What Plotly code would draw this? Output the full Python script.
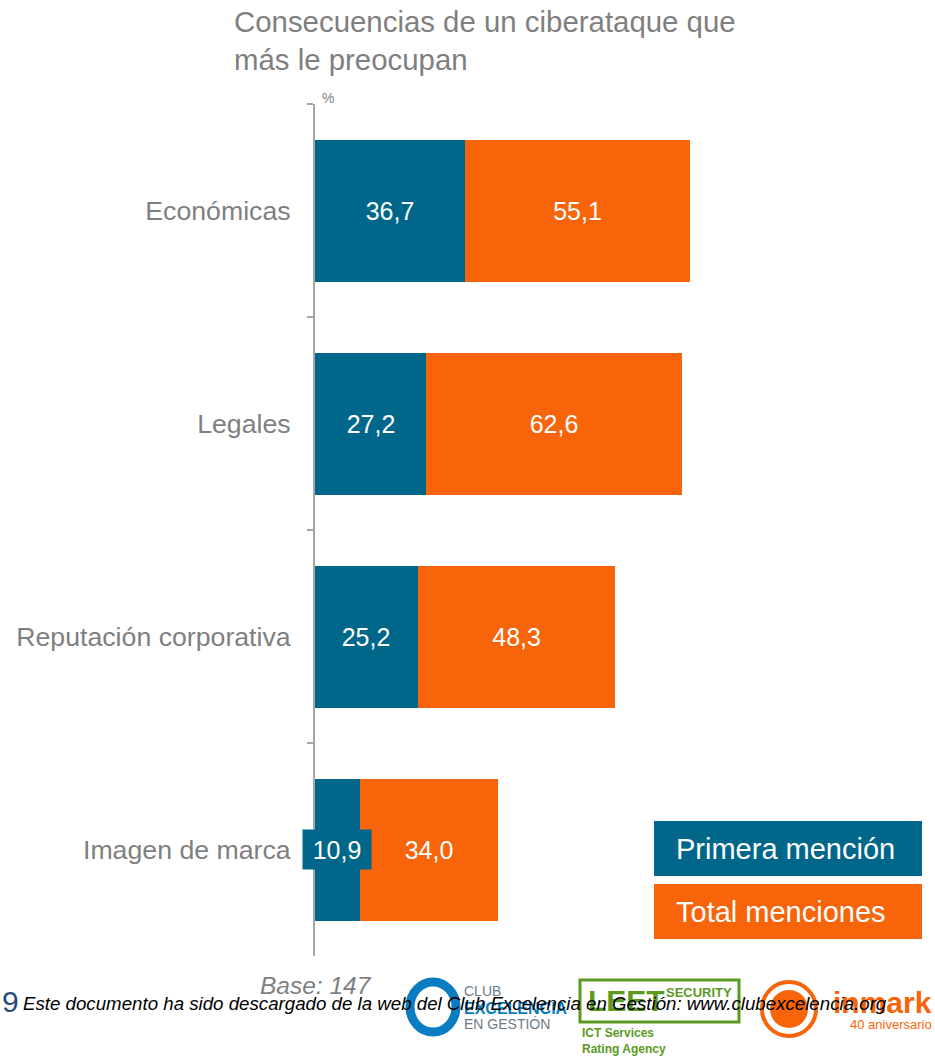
import plotly.graph_objects as go

categories = ["Económicas", "Legales", "Reputación corporativa", "Imagen de marca"]
primera = [36.7, 27.2, 25.2, 10.9]
total = [55.1, 62.6, 48.3, 34.0]
series_names = ["Primera mención", "Total menciones"]
title_lines = ["Consecuencias de un ciberataque que", "más le preocupan"]
base_text = "Base: 147"
page_number = "9"
footer = "Este documento ha sido descargado de la web del Club Excelencia en Gestión: www.clubexcelencia.org"

W, H = 935, 1058
BLUE = "#00678A"
ORANGE = "#F7640A"
GRAY = "#7F7F7F"
FONT = "Liberation Sans, Arial, sans-serif"


def fmt(v):
    return f"{v:.1f}".replace(".", ",")


def px(x):
    return x / W


def py(y):
    return 1 - y / H


fig = go.Figure()
fig.add_trace(go.Bar(
    y=categories, x=primera, orientation="h", name=series_names[0],
    marker=dict(color=BLUE, line=dict(width=0)), showlegend=False,
))
fig.add_trace(go.Bar(
    y=categories, x=total, orientation="h", name=series_names[1],
    marker=dict(color=ORANGE, line=dict(width=0)), showlegend=False,
    text=[fmt(v) for v in total], textposition="inside", insidetextanchor="middle",
    constraintext="none", textfont=dict(color="white", size=25, family=FONT),
    textangle=0,
))

annotations = []
for c, v in zip(categories, primera):
    annotations.append(dict(
        x=v / 2, y=c, xref="x", yref="y", text=fmt(v), showarrow=False,
        font=dict(color="white", size=25, family=FONT),
        bgcolor=BLUE, width=68, height=39, borderpad=0,
    ))

# title
annotations.append(dict(
    x=px(232), y=py(3), xref="paper", yref="paper", xanchor="left", yanchor="top",
    text="<br>".join(title_lines), showarrow=False, align="left",
    font=dict(color=GRAY, size=29.4, family=FONT),
))
annotations.append(dict(
    x=px(320), y=py(98), xref="paper", yref="paper", xanchor="left", yanchor="middle",
    text="%", showarrow=False, font=dict(color=GRAY, size=14, family=FONT),
))

# legend boxes
shapes = []
legend_boxes = [(821, 876, BLUE), (884, 939, ORANGE)]
for (y0, y1, col), name in zip(legend_boxes, series_names):
    shapes.append(dict(type="rect", xref="paper", yref="paper",
                       x0=px(654), x1=px(922), y0=py(y1), y1=py(y0),
                       fillcolor=col, line=dict(width=0)))
    annotations.append(dict(
        x=px(674), y=py((y0 + y1) / 2), xref="paper", yref="paper",
        xanchor="left", yanchor="middle", text=name, showarrow=False,
        font=dict(color="white", size=29, family=FONT),
    ))

# base
annotations.append(dict(
    x=px(316), y=py(985), xref="paper", yref="paper", xanchor="center", yanchor="middle",
    text=f"<i>{base_text}</i>", showarrow=False,
    font=dict(color=GRAY, size=24.5, family=FONT),
))

# logos (approximated)
shapes.append(dict(type="circle", xref="paper", yref="paper",
                   x0=px(410), x1=px(456), y0=py(1032), y1=py(982),
                   line=dict(color="#0A7CC1", width=9)))
annotations.append(dict(x=px(462), y=py(991), xref="paper", yref="paper", xanchor="left",
                        yanchor="middle", text="CLUB", showarrow=False,
                        font=dict(color="#6D7B86", size=14, family=FONT)))
annotations.append(dict(x=px(462), y=py(1008), xref="paper", yref="paper", xanchor="left",
                        yanchor="middle", text="<b>EXCELENCIA</b>", showarrow=False,
                        font=dict(color="#0A7CC1", size=16, family=FONT)))
annotations.append(dict(x=px(462), y=py(1024), xref="paper", yref="paper", xanchor="left",
                        yanchor="middle", text="EN GESTIÓN", showarrow=False,
                        font=dict(color="#6D7B86", size=14, family=FONT)))
shapes.append(dict(type="rect", xref="paper", yref="paper",
                   x0=px(580), x1=px(739), y0=py(1022), y1=py(980),
                   line=dict(color="#5A9A1E", width=3), fillcolor="white"))
annotations.append(dict(x=px(586), y=py(1000), xref="paper", yref="paper", xanchor="left",
                        yanchor="middle", text="<b>LEET</b>", showarrow=False,
                        font=dict(color="#5A9A1E", size=30, family=FONT)))
annotations.append(dict(x=px(734), y=py(992), xref="paper", yref="paper", xanchor="right",
                        yanchor="middle", text="<b>SECURITY</b>", showarrow=False,
                        font=dict(color="#5A9A1E", size=13, family=FONT)))
annotations.append(dict(x=px(580), y=py(1041), xref="paper", yref="paper", xanchor="left",
                        yanchor="middle", text="<b>ICT Services<br>Rating Agency</b>", showarrow=False,
                        align="left", font=dict(color="#5A9A1E", size=12, family=FONT)))
shapes.append(dict(type="circle", xref="paper", yref="paper",
                   x0=px(762), x1=px(816), y0=py(1036), y1=py(982),
                   line=dict(color=ORANGE, width=4), fillcolor="white"))
shapes.append(dict(type="circle", xref="paper", yref="paper",
                   x0=px(770), x1=px(808), y0=py(1028), y1=py(990),
                   line=dict(width=0), fillcolor=ORANGE))
annotations.append(dict(x=px(934), y=py(1002), xref="paper", yref="paper", xanchor="right",
                        yanchor="middle", text="<b>inmark</b>", showarrow=False,
                        font=dict(color=ORANGE, size=30, family=FONT)))
annotations.append(dict(x=px(934), y=py(1024), xref="paper", yref="paper", xanchor="right",
                        yanchor="middle", text="40 aniversario", showarrow=False,
                        font=dict(color=ORANGE, size=13, family=FONT)))

# page number and footer
annotations.append(dict(x=px(0), y=py(1001), xref="paper", yref="paper", xanchor="left",
                        yanchor="middle", text=page_number, showarrow=False,
                        font=dict(color="#1F4E79", size=30, family=FONT)))
annotations.append(dict(x=px(21), y=py(1003), xref="paper", yref="paper", xanchor="left",
                        yanchor="middle", text=f"<i>{footer}</i>", showarrow=False,
                        font=dict(color="black", size=18.7, family=FONT)))

fig.update_layout(
    width=W, height=H, margin=dict(l=0, r=0, t=0, b=0),
    paper_bgcolor="white", plot_bgcolor="white",
    barmode="stack", bargap=1 - 142 / 213,
    showlegend=False,
    xaxis=dict(domain=[px(315), 1], range=[0, 620 / 4.085], visible=False, fixedrange=True),
    yaxis=dict(
        domain=[py(956), py(104)], type="category", categoryorder="array",
        categoryarray=categories, autorange="reversed",
        tickson="boundaries", ticks="outside", ticklen=6, tickcolor="#A6A6A6", tickwidth=1.5,
        showline=True, linecolor="#A6A6A6", linewidth=2, showgrid=False, zeroline=False,
        tickfont=dict(color=GRAY, size=26.7, family=FONT), ticklabelstandoff=17,
    ),
    shapes=shapes, annotations=annotations,
)

fig.write_html("out.html", config={"displayModeBar": False},
               post_script="document.body.style.margin='0';document.body.style.overflow='hidden';")
